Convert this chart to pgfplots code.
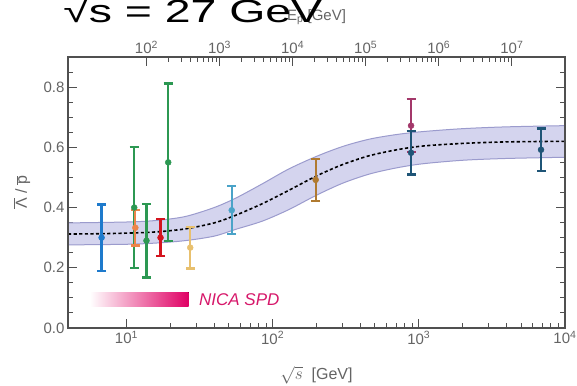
\documentclass[border=0pt]{standalone}
\usepackage{fontspec}
\setmainfont{Liberation Sans}
\usepackage{pgfplots}
\pgfplotsset{compat=1.18}
\usepgfplotslibrary{fillbetween}
\definecolor{axgray}{RGB}{80,80,80}
\definecolor{lblgray}{RGB}{100,100,100}
\definecolor{bandfill}{RGB}{212,212,238}
\definecolor{bandedge}{RGB}{155,155,205}
\definecolor{cblue}{RGB}{30,122,204}
\definecolor{corange}{RGB}{236,132,74}
\definecolor{cgreen}{RGB}{44,152,82}
\definecolor{cred}{RGB}{212,20,30}
\definecolor{cyellow}{RGB}{232,192,110}
\definecolor{clblue}{RGB}{74,163,200}
\definecolor{cbrown}{RGB}{176,122,48}
\definecolor{cmag}{RGB}{163,56,106}
\definecolor{cdblue}{RGB}{31,85,119}
\definecolor{nica}{RGB}{224,0,100}
\definecolor{nicatext}{RGB}{214,24,106}
\pgfplotsset{
  pt/.style={#1, line width=2.3pt, mark=*, mark size=3pt, mark options={line width=0.4pt}, only marks,
    error bars/.cd, y dir=both, y explicit, error mark=-,
    error bar style={line width=2.3pt, #1},
    error mark options={rotate=90, line width=2.3pt, mark size=4.5pt, #1}},
}
\begin{document}
\begin{tikzpicture}
\begin{axis}[name=main,
  scale only axis, width=497pt, height=271pt,
  xmode=log, xmin=3.981, xmax=10000, ymin=0, ymax=0.9,
  xtick={10,100,1000,10000},
  xticklabels={10\textsuperscript{1},10\textsuperscript{2},10\textsuperscript{3},10\textsuperscript{4}},
  ytick={0,0.2,0.4,0.6,0.8},
  yticklabels={0.0,0.2,0.4,0.6,0.8},
  minor ytick={0.05,0.1,0.15,0.25,0.3,0.35,0.45,0.5,0.55,0.65,0.7,0.75,0.85},
  xtick pos=left, ytick pos=both, yticklabel pos=left,
  tick align=inside, major tick length=9pt, minor tick length=5pt,
  axis line style={line width=1.2pt, color=axgray},
  major tick style={line width=1pt, color=axgray},
  minor tick style={line width=0.9pt, color=axgray},
  ticklabel style={font=\fontsize{15}{17}\selectfont, text=lblgray},
  xlabel={$\sqrt{s}$\ \ [GeV]},
  ylabel={\(\overline{\mbox{Λ}}\) / \(\overline{\mbox{p}}\)},
  every axis x label/.style={at={(axis description cs:0.5,-0.173)}, anchor=center, font=\fontsize{16}{18}\selectfont, text=lblgray},
  every axis y label/.style={at={(axis description cs:-0.0926,0.5)}, anchor=center, rotate=90, font=\fontsize{16}{18}\selectfont, text=lblgray},
]
\addplot[name path=up, draw=bandedge, line width=1pt, smooth] coordinates {
(3.981,0.349) (10,0.352) (15.85,0.357) (25.12,0.370) (39.81,0.400) (56.23,0.432)
(85.11,0.479) (128.8,0.528) (199.5,0.570) (302,0.603) (457.1,0.627) (691.8,0.642)
(1047,0.652) (1995,0.662) (3981,0.668) (10000,0.672)};
\addplot[name path=lo, draw=bandedge, line width=1pt, smooth] coordinates {
(3.981,0.276) (10,0.278) (15.85,0.282) (25.12,0.290) (39.81,0.305) (56.23,0.328)
(85.11,0.355) (128.8,0.393) (199.5,0.441) (302,0.481) (457.1,0.511) (691.8,0.531)
(1047,0.545) (1995,0.557) (3981,0.563) (10000,0.567)};
\addplot[bandfill] fill between[of=up and lo];
\addplot[black, line width=1.6pt, dash pattern=on 3.2pt off 2.4pt, smooth] coordinates {
(3.981,0.312) (6.31,0.313) (10,0.315) (15.85,0.319) (25.12,0.329) (39.81,0.349)
(56.23,0.375) (85.11,0.413) (128.8,0.457) (199.5,0.505) (302,0.543) (457.1,0.572)
(691.8,0.591) (1047,0.604) (1995,0.613) (3981,0.618) (10000,0.620)};
\fill[left color=white, right color=nica, draw=none] (axis cs:5.62,0.0714) rectangle (axis cs:26.6,0.119);
\node[anchor=base west, font=\fontsize{17}{19}\selectfont\itshape, text=nicatext, inner sep=0pt] at (axis cs:31.3,0.075) {NICA SPD};
\addplot[pt=cblue] coordinates {(6.76,0.30) +- (0,0.11)};
\addplot[pt=cgreen] coordinates {(11.3,0.40) +- (0,0.20)};
\addplot[pt=corange] coordinates {(11.5,0.333) +- (0,0.059)};
\addplot[pt=cgreen] coordinates {(13.7,0.29) +- (0,0.122)};
\addplot[pt=cred] coordinates {(17.1,0.30) +- (0,0.061)};
\addplot[pt=cgreen] coordinates {(19.3,0.55) +- (0,0.262)};
\addplot[pt=cyellow] coordinates {(27.3,0.267) +- (0,0.069)};
\addplot[pt=clblue] coordinates {(52.5,0.391) +- (0,0.08)};
\addplot[pt=cbrown] coordinates {(197,0.492) +- (0,0.07)};
\addplot[pt=cmag] coordinates {(885,0.672) +- (0,0.088)};
\addplot[pt=cdblue] coordinates {(885,0.582) +- (0,0.072)};
\addplot[pt=cdblue] coordinates {(6855,0.592) +- (0,0.071)};
\end{axis}
\begin{axis}[
  scale only axis, width=497pt, height=271pt,
  xmode=log, xmin=8.45, xmax=5.33e7, ymin=0, ymax=1,
  xtick={100,1000,10000,100000,1000000,10000000},
  xticklabels={10\textsuperscript{2},10\textsuperscript{3},10\textsuperscript{4},10\textsuperscript{5},10\textsuperscript{6},10\textsuperscript{7}},
  ytick=\empty,
  xtick pos=right, xticklabel pos=right,
  tick align=inside, major tick length=9pt, minor tick length=5pt,
  axis line style={line width=1.2pt, color=axgray},
  major tick style={line width=1pt, color=axgray},
  minor tick style={line width=0.9pt, color=axgray},
  ticklabel style={font=\fontsize{15}{17}\selectfont, text=lblgray},
  xlabel={E\textsubscript{p} [GeV]},
  every axis x label/.style={at={(axis description cs:0.5,1.148)}, anchor=center, font=\fontsize{15}{17}\selectfont, text=lblgray},
]
\addplot[draw=none] coordinates {(100,0.5)};
\end{axis}
\node[anchor=base west, font=\fontsize{32}{36}\selectfont, inner sep=0pt, xscale=1.45] at ([xshift=-5pt,yshift=34pt]main.north west) {√s = 27 GeV};
\pgfresetboundingbox
\useasboundingbox ([xshift=-68pt,yshift=-58pt]main.south west) rectangle ([xshift=12pt,yshift=57pt]main.north east);
\end{tikzpicture}
\end{document}
